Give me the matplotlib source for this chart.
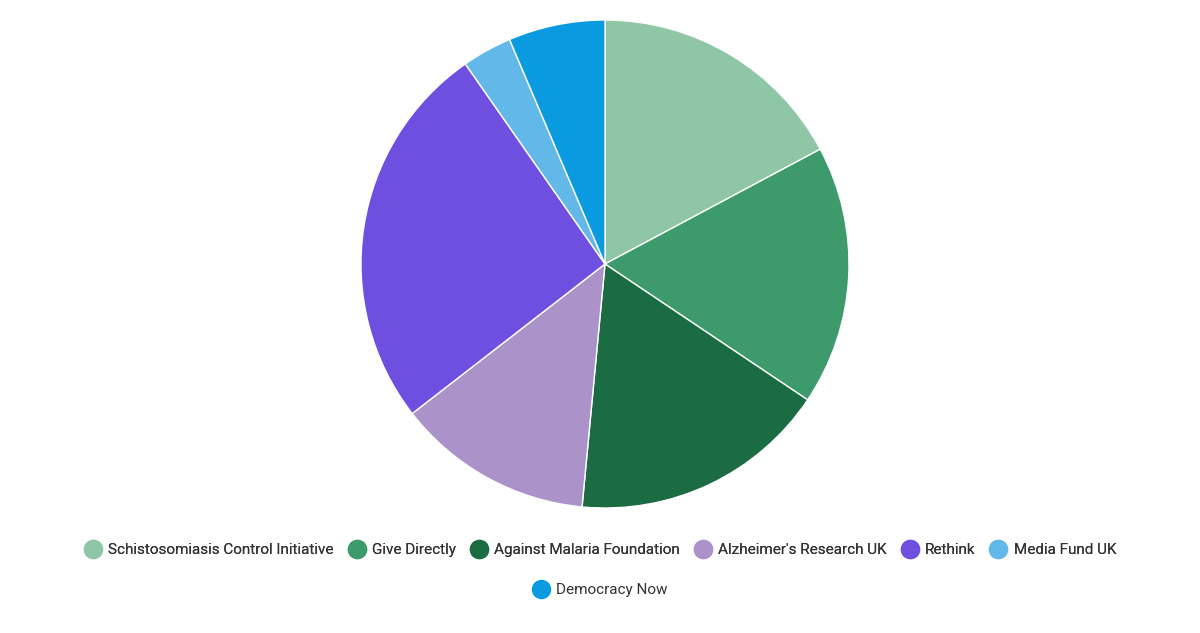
import matplotlib.pyplot as plt
from matplotlib.lines import Line2D

labels = ["Schistosomiasis Control Initiative", "Give Directly", "Against Malaria Foundation",
          "Alzheimer's Research UK", "Rethink", "Media Fund UK", "Democracy Now"]
values = [17.2, 17.2, 17.1, 13.0, 25.8, 3.3, 6.4]
colors = ["#8fc7a6", "#3d9a6a", "#1b6b43", "#ab92c8", "#6f4fe0", "#62b8e8", "#0a9ae0"]

plt.rcParams["font.family"] = ["Roboto", "DejaVu Sans"]
fig = plt.figure(figsize=(12, 6.33), dpi=100)
ax = fig.add_axes([(605 - 244) / 1200, (633 - 508) / 633, 488 / 1200, 488 / 633])
ax.pie(values, colors=colors, startangle=90, counterclock=False,
       wedgeprops=dict(edgecolor="white", linewidth=1))
ax.set_xlim(-1, 1)
ax.set_ylim(-1, 1)
ax.set_aspect("equal")


def handles(idx):
    return [Line2D([], [], marker="o", linestyle="", markersize=13,
                   markerfacecolor=colors[i], markeredgecolor=colors[i]) for i in idx]


kw = dict(frameon=False, fontsize=11, labelcolor="#333333", handletextpad=0.4,
          columnspacing=0.9, handlelength=1.2, loc="center")
leg1 = fig.legend(handles(range(6)), labels[:6], ncol=6,
                  bbox_to_anchor=(0.5, 1 - 550 / 633), **kw)
fig.add_artist(leg1)
fig.legend(handles([6]), labels[6:], ncol=1,
           bbox_to_anchor=(0.5, 1 - 590 / 633), **kw)

fig.savefig("out.png")
